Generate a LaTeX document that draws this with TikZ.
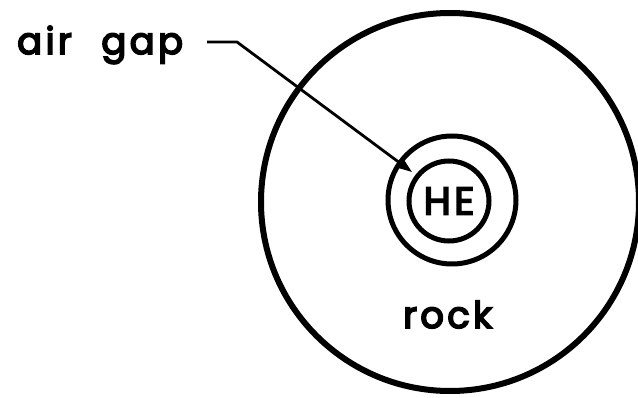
\documentclass[tikz,border=0pt]{standalone}
\usepackage{fontspec}
\setmainfont{Poppins}[LetterSpace=9,FakeBold=4.5]
\usetikzlibrary{arrows.meta}
\begin{document}
\begin{tikzpicture}[x=1pt,y=-1pt,
  ring/.style={circle,draw,inner sep=0pt,line width=#1},
  lbl/.style={inner sep=0pt,font=\fontsize{37}{37}\selectfont},
  lead/.style={line width=2.8pt,-{Stealth[length=14pt,width=10pt,inset=2pt]}}]
\useasboundingbox (0,0) rectangle (638,398);
\fill[white] (0,0) rectangle (638,398);
\clip (0,0) rectangle (638,398);
\node[ring=6pt,minimum size=378pt] (rock) at (450,202) {};
\node[ring=5pt,minimum size=128pt] (gap) at (452,200) {};
\node[ring=5pt,minimum size=80pt,font=\fontsize{39}{39}\selectfont] (he) at (449,201) {HE};
\node[lbl,anchor=base west] (airgap) at (17,54) {air\hspace{0.8em}gap};
\node[lbl,anchor=base west] (rocklbl) at (403,328) {rock};
\coordinate (l0) at (207,42);
\coordinate (l1) at (237,42);
\coordinate (tip) at (412,172);
\draw[lead] (l0) -- (l1) -- (tip);
\end{tikzpicture}
\end{document}
